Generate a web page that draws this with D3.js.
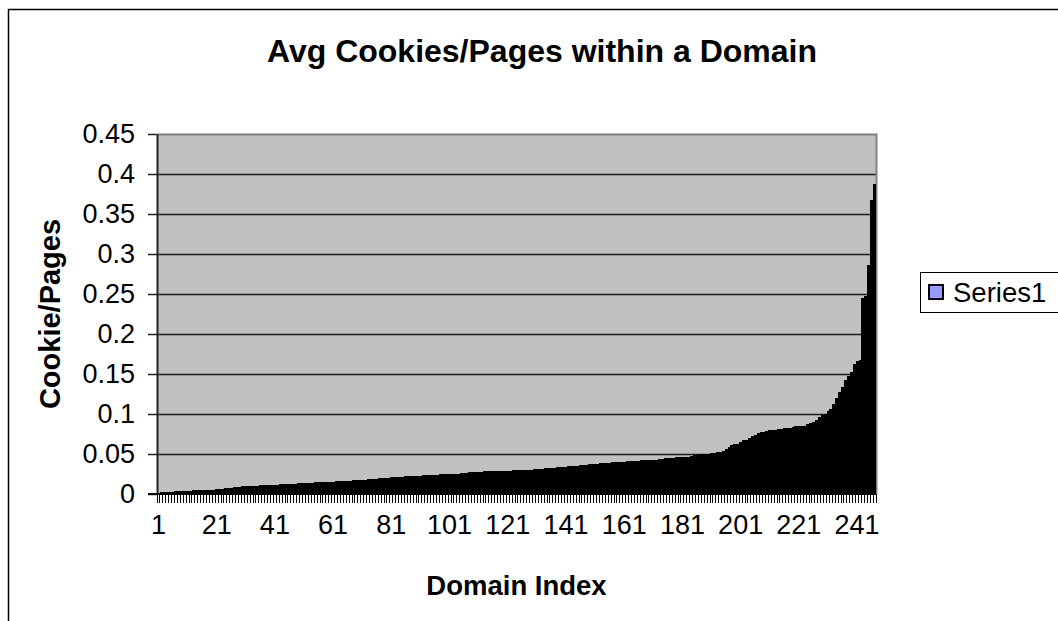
<!DOCTYPE html>
<html>
<head>
<meta charset="utf-8">
<script src="https://cdn.jsdelivr.net/npm/d3@7"></script>
<style>
  html, body { margin: 0; padding: 0; background: #fff; }
  svg { display: block; font-family: "Liberation Sans", Arial, sans-serif; }
</style>
</head>
<body>
<svg id="chart" width="1058" height="621"></svg>
<script>
// Average cookies per page for each domain, sorted ascending
const cookiesPerPage = [
  0.0015, 0.002, 0.0025, 0.0025, 0.003, 0.003, 0.0033, 0.0035, 0.0038, 0.004,
  0.0042, 0.0043, 0.0045, 0.0047, 0.0048, 0.005, 0.0051, 0.0053, 0.0055, 0.0056,
  0.0058, 0.006, 0.0062, 0.0075, 0.0078, 0.008, 0.0083, 0.0085, 0.0088, 0.0095,
  0.0098, 0.01, 0.0102, 0.0104, 0.0106, 0.0108, 0.011, 0.0111, 0.0113, 0.0115,
  0.0117, 0.0118, 0.012, 0.0122, 0.0124, 0.0126, 0.0128, 0.013, 0.0132, 0.0134,
  0.0136, 0.0138, 0.014, 0.0142, 0.0144, 0.0146, 0.0148, 0.015, 0.0152, 0.0154,
  0.0156, 0.0158, 0.016, 0.0162, 0.0164, 0.0166, 0.0168, 0.017, 0.0172, 0.0175,
  0.0178, 0.018, 0.0183, 0.0186, 0.019, 0.0193, 0.0196, 0.02, 0.0203, 0.0206,
  0.021, 0.0212, 0.0214, 0.0216, 0.0218, 0.022, 0.0222, 0.0224, 0.0226, 0.0228,
  0.023, 0.0232, 0.0234, 0.0236, 0.0238, 0.024, 0.0242, 0.0244, 0.0246, 0.0248,
  0.025, 0.0252, 0.0254, 0.0256, 0.0258, 0.026, 0.0265, 0.027, 0.0275, 0.0278,
  0.028, 0.0281, 0.0282, 0.0283, 0.0284, 0.0285, 0.0286, 0.0287, 0.0288, 0.0289,
  0.029, 0.0292, 0.0294, 0.0296, 0.0298, 0.03, 0.0302, 0.0304, 0.0306, 0.0308,
  0.031, 0.0313, 0.0316, 0.032, 0.0323, 0.0326, 0.033, 0.0333, 0.0336, 0.034,
  0.0343, 0.0346, 0.035, 0.0353, 0.0356, 0.036, 0.0363, 0.0366, 0.037, 0.0373,
  0.0376, 0.038, 0.0383, 0.0386, 0.039, 0.0393, 0.0396, 0.04, 0.0402, 0.0404,
  0.0406, 0.0408, 0.041, 0.041, 0.041, 0.0412, 0.042, 0.0423, 0.0425, 0.0425,
  0.0427, 0.043, 0.0432, 0.0435, 0.045, 0.0452, 0.0454, 0.0456, 0.0458, 0.046,
  0.046, 0.0462, 0.0465, 0.048, 0.0485, 0.049, 0.0495, 0.0497, 0.05, 0.05,
  0.051, 0.0515, 0.052, 0.0525, 0.054, 0.056, 0.059, 0.061, 0.062, 0.063,
  0.065, 0.067, 0.068, 0.07, 0.072, 0.074, 0.076, 0.077, 0.078, 0.079,
  0.08, 0.08, 0.0805, 0.081, 0.0815, 0.082, 0.0825, 0.083, 0.084, 0.0845,
  0.085, 0.085, 0.0855, 0.088, 0.089, 0.09, 0.093, 0.096, 0.099, 0.1,
  0.104, 0.106, 0.113, 0.12, 0.128, 0.134, 0.1425, 0.1475, 0.152, 0.163,
  0.166, 0.1675, 0.245, 0.248, 0.286, 0.3675, 0.3875
];

// Domain index categories (1-based)
const domainIndex = cookiesPerPage.map((_, i) => i + 1);

// Category labels shown on the x axis
const xTickLabels = ["1", "21", "41", "61", "81", "101", "121", "141", "161", "181", "201", "221", "241"];

// Value axis ticks
const yTickValues = [0, 0.05, 0.1, 0.15, 0.2, 0.25, 0.3, 0.35, 0.4, 0.45];

const seriesName = "Series1";
const chartTitle = "Avg Cookies/Pages within a Domain";
const xTitle = "Domain Index";
const yTitle = "Cookie/Pages";

const svg = d3.select("#chart");

const plot = { left: 157, right: 876, top: 134, bottom: 494 };

const x = d3.scaleBand()
  .domain(domainIndex)
  .range([plot.left, plot.right])
  .paddingInner(0)
  .paddingOuter(0);

const y = d3.scaleLinear()
  .domain([0, 0.45])
  .range([plot.bottom, plot.top]);

// Outer chart frame
svg.append("rect")
  .attr("x", 8.5).attr("y", 9.5)
  .attr("width", 1070).attr("height", 630)
  .attr("fill", "#fff")
  .attr("stroke", "#000")
  .attr("stroke-width", 1.5);

// Plot background
svg.append("rect")
  .attr("x", plot.left).attr("y", plot.top)
  .attr("width", plot.right - plot.left)
  .attr("height", plot.bottom - plot.top)
  .attr("fill", "#c0c0c0");

// Horizontal gridlines
svg.append("g")
  .selectAll("line")
  .data(yTickValues.filter(v => v > 0 && v < 0.45))
  .join("line")
  .attr("x1", plot.left).attr("x2", plot.right)
  .attr("y1", d => Math.round(y(d)) + 0.5)
  .attr("y2", d => Math.round(y(d)) + 0.5)
  .attr("stroke", "#1a1a1a")
  .attr("stroke-width", 1.5);

// Plot border (top and right)
svg.append("path")
  .attr("d", `M${plot.left},${plot.top + 0.5} H${plot.right + 0.5} V${plot.bottom}`)
  .attr("fill", "none")
  .attr("stroke", "#808080")
  .attr("stroke-width", 2);

// Bars
svg.append("g")
  .attr("shape-rendering", "crispEdges")
  .selectAll("rect")
  .data(cookiesPerPage)
  .join("rect")
  .attr("x", (d, i) => x(domainIndex[i]))
  .attr("width", x.bandwidth() + 0.2)
  .attr("y", d => y(d))
  .attr("height", d => y(0) - y(d))
  .attr("fill", "#000");

// Y axis
const yAxis = d3.axisLeft(y)
  .tickValues(yTickValues)
  .tickFormat(d => d3.format("")(+d.toFixed(2)))
  .tickSizeInner(9)
  .tickSizeOuter(0)
  .tickPadding(13);

const yg = svg.append("g")
  .attr("transform", `translate(${plot.left},0)`)
  .call(yAxis);
yg.select(".domain").attr("stroke", "#222").attr("stroke-width", 2);
yg.selectAll(".tick line").attr("stroke", "#222").attr("stroke-width", 1.5);
yg.selectAll(".tick text")
  .attr("font-size", 27)
  .attr("fill", "#000")
  .attr("font-family", "Liberation Sans, Arial, sans-serif");

// X axis: one tick at every category boundary
svg.append("g")
  .attr("shape-rendering", "crispEdges")
  .selectAll("line")
  .data(domainIndex.concat([null]))
  .join("line")
  .attr("x1", d => d === null ? plot.right : x(d))
  .attr("x2", d => d === null ? plot.right : x(d))
  .attr("y1", plot.bottom)
  .attr("y2", plot.bottom + 9)
  .attr("stroke", "#000")
  .attr("stroke-width", 1);

svg.append("line")
  .attr("x1", plot.left - 9).attr("x2", plot.right)
  .attr("y1", plot.bottom).attr("y2", plot.bottom)
  .attr("stroke", "#000")
  .attr("stroke-width", 2);

// X tick labels every 20th category
svg.append("g")
  .selectAll("text")
  .data(xTickLabels)
  .join("text")
  .attr("x", d => x(+d) + x.bandwidth() / 2)
  .attr("y", 534)
  .attr("text-anchor", "middle")
  .attr("font-size", 27)
  .attr("fill", "#000")
  .text(d => d);

// Titles
svg.append("text")
  .attr("x", 542).attr("y", 62)
  .attr("text-anchor", "middle")
  .attr("font-size", 32)
  .attr("font-weight", "bold")
  .text(chartTitle);

svg.append("text")
  .attr("x", (plot.left + plot.right) / 2).attr("y", 595)
  .attr("text-anchor", "middle")
  .attr("font-size", 27.5)
  .attr("font-weight", "bold")
  .text(xTitle);

svg.append("text")
  .attr("transform", `translate(60,${(plot.top + plot.bottom) / 2}) rotate(-90)`)
  .attr("text-anchor", "middle")
  .attr("font-size", 29)
  .attr("font-weight", "bold")
  .text(yTitle);

// Legend
const legend = svg.append("g");
legend.append("rect")
  .attr("x", 920.5).attr("y", 272.5)
  .attr("width", 160).attr("height", 40)
  .attr("fill", "#fff")
  .attr("stroke", "#000")
  .attr("stroke-width", 1);
legend.append("rect")
  .attr("x", 929).attr("y", 285)
  .attr("width", 14).attr("height", 14)
  .attr("fill", "#9999ff")
  .attr("stroke", "#000")
  .attr("stroke-width", 2);
legend.append("text")
  .attr("x", 953).attr("y", 302)
  .attr("font-size", 27.5)
  .attr("fill", "#000")
  .text(seriesName);
</script>
</body>
</html>
